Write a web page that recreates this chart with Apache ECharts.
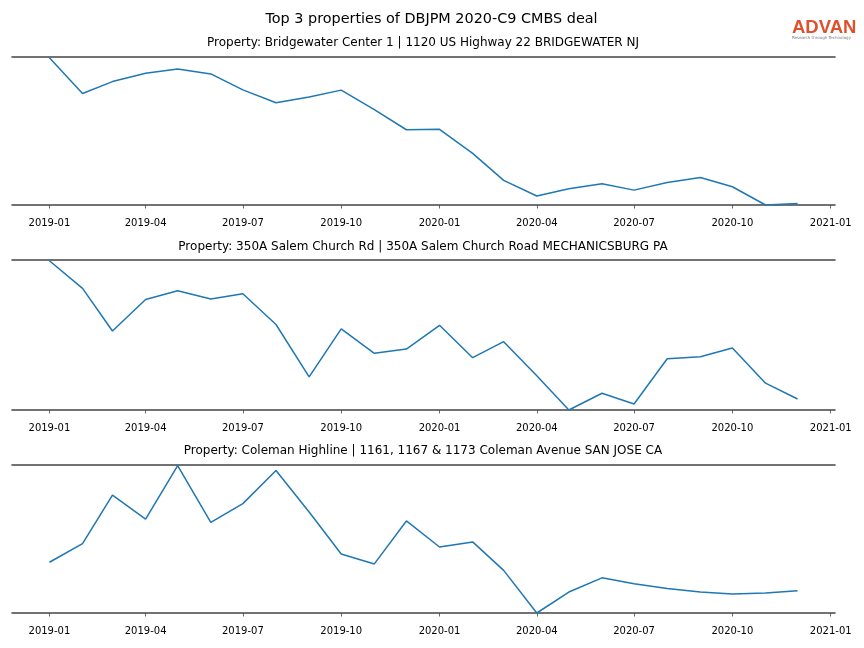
<!DOCTYPE html>
<html>
<head>
<meta charset="utf-8">
<script src="https://cdn.jsdelivr.net/npm/echarts@6/dist/echarts.min.js"></script>
<style>html,body{margin:0;padding:0;background:#fff}#c{width:864px;height:648px}</style>
</head>
<body>
<div id="c"></div>
<script>
const months = ['2019-01','2019-02','2019-03','2019-04','2019-05','2019-06','2019-07','2019-08','2019-09','2019-10','2019-11','2019-12',
                '2020-01','2020-02','2020-03','2020-04','2020-05','2020-06','2020-07','2020-08','2020-09','2020-10','2020-11','2020-12'];
const tickLabels = ['2019-01','2019-04','2019-07','2019-10','2020-01','2020-04','2020-07','2020-10','2021-01'];
const titles = [
  'Property: Bridgewater Center 1 | 1120 US Highway 22 BRIDGEWATER NJ',
  'Property: 350A Salem Church Rd | 350A Salem Church Road MECHANICSBURG PA',
  'Property: Coleman Highline | 1161, 1167 & 1173 Coleman Avenue SAN JOSE CA'
];
const bridgewater = [100.0, 75.7, 83.8, 89.5, 92.4, 89.0, 78.2, 69.4, 73.4, 78.0, 64.7, 51.1,
                     51.4, 35.1, 16.7, 6.1, 11.1, 14.5, 10.1, 15.3, 18.7, 12.4, 0.0, 1.1];
const salemChurch = [99.0, 80.7, 52.4, 73.3, 79.1, 73.6, 77.1, 56.7, 22.0, 53.8, 37.6, 40.4,
                     56.2, 34.7, 45.3, 22.7, 0.0, 11.1, 4.0, 34.0, 35.3, 41.1, 17.8, 7.3];
const coleman = [33.9, 46.4, 78.7, 62.7, 98.4, 60.6, 73.1, 95.2, 67.5, 39.4, 32.8, 61.5,
                 44.1, 47.5, 28.5, 0.0, 14.0, 23.5, 19.5, 16.3, 14.0, 12.7, 13.3, 14.9];
const seriesValues = [bridgewater, salemChurch, coleman];

const ts = s => { const [y, m] = s.split('-').map(Number); return Date.UTC(y, m - 1, 1); };
const first = ts(months[0]), last = ts(months[months.length - 1]);
const pad = (last - first) * 0.05;
const xMin = first - pad, xMax = last + pad;
const tickVals = tickLabels.map(ts);
const fmt = v => { const d = new Date(v); return d.getUTCFullYear() + '-' + String(d.getUTCMonth() + 1).padStart(2, '0'); };

const grids = [
  {left: 12, right: 29, top: 57, height: 148},
  {left: 12, right: 29, top: 260, height: 150},
  {left: 12, right: 29, top: 465, height: 148}
];
const spine = '#444444';
const xAxes = [], yAxes = [], series = [];
grids.forEach((g, i) => {
  xAxes.push({
    type: 'value', gridIndex: i, min: xMin, max: xMax, position: 'bottom',
    axisLine: {show: true, onZero: false, lineStyle: {color: spine, width: 1.6}},
    axisTick: {show: true, length: 3.5, customValues: tickVals, lineStyle: {color: spine, width: 0.8}},
    axisLabel: {
      show: true, customValues: tickVals, margin: 13, fontSize: 10,
      fontFamily: 'DejaVu Sans', color: '#000', formatter: fmt, showMinLabel: true, showMaxLabel: true
    },
    splitLine: {show: false}
  });
  xAxes.push({
    type: 'value', gridIndex: i, min: xMin, max: xMax, position: 'top',
    axisLine: {show: true, onZero: false, lineStyle: {color: spine, width: 1.6}},
    axisTick: {show: false}, axisLabel: {show: false}, splitLine: {show: false}
  });
  yAxes.push({
    type: 'value', gridIndex: i, show: false, scale: true,
    min: v => v.min, max: v => v.max + (v.max - v.min) * 0.005,
    splitLine: {show: false}
  });
  series.push({
    type: 'line', xAxisIndex: i * 2, yAxisIndex: i, showSymbol: false, symbol: 'none',
    lineStyle: {color: '#1f77b4', width: 1.5},
    data: months.map((m, k) => [ts(m), seriesValues[i][k]])
  });
});

const subStyle = {fontFamily: 'DejaVu Sans', fontSize: 12, fontWeight: 'normal', color: '#000'};
const chart = echarts.init(document.getElementById('c'), null, {renderer: 'canvas'});
chart.setOption({
  backgroundColor: '#fff',
  animation: false,
  title: [
    {text: 'Top 3 properties of DBJPM 2020-C9 CMBS deal', left: 426.5, top: 7, textAlign: 'center',
     textStyle: {fontFamily: 'DejaVu Sans', fontSize: 14.4, fontWeight: 'normal', color: '#000'}},
    {text: titles[0], left: 418, top: 32, textAlign: 'center', textStyle: subStyle},
    {text: titles[1], left: 418, top: 236, textAlign: 'center', textStyle: subStyle},
    {text: titles[2], left: 418, top: 440, textAlign: 'center', textStyle: subStyle}
  ],
  grid: grids,
  xAxis: xAxes,
  yAxis: yAxes,
  series: series,
  graphic: [
    {type: 'text', left: 792, top: 18, style: {text: 'ADVAN', fill: '#e0502b', font: 'bold 18.5px "Liberation Sans", Arial, sans-serif'}},
    {type: 'text', left: 792, top: 36, style: {text: 'Research through Technology', fill: '#777', font: '4px "DejaVu Sans", sans-serif'}}
  ]
});
</script>
</body>
</html>
